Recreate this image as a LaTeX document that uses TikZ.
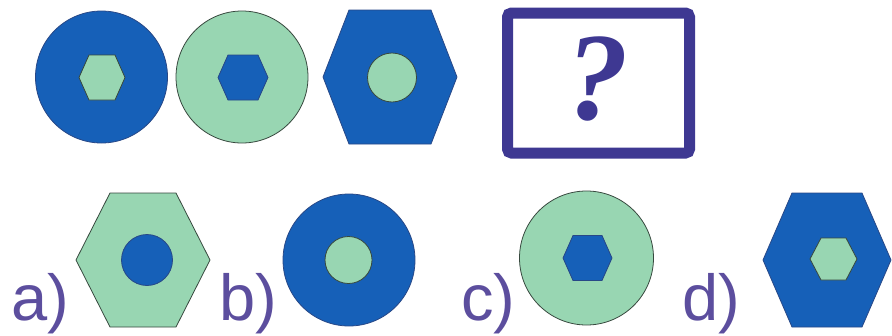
\documentclass[tikz,border=0pt]{standalone}
\usepackage{fontspec}
\setmainfont{Liberation Sans}
\newfontfamily\qfont{Liberation Serif}
\definecolor{dblue}{RGB}{22,96,184}
\definecolor{dblueline}{RGB}{40,72,135}
\definecolor{lgreen}{RGB}{152,214,178}
\definecolor{gline}{RGB}{55,72,62}
\definecolor{boxcol}{RGB}{62,56,146}
\definecolor{labcol}{RGB}{92,78,158}
\newcommand\hexpath[5]{(#1-#3,#2) -- (#1-#4,#2-#5) -- (#1+#4,#2-#5) -- (#1+#3,#2) -- (#1+#4,#2+#5) -- (#1-#4,#2+#5) -- cycle}
\tikzset{
  blueshape/.style={fill=dblue, draw=dblueline, line width=0.8pt},
  greenshape/.style={fill=lgreen, draw=gline, line width=0.8pt},
  lab/.style={anchor=base west, text=labcol, inner sep=0pt, font=\fontsize{65}{65}\selectfont}
}
\begin{document}
\begin{tikzpicture}[x=1pt,y=-1pt]
\useasboundingbox (0,0) rectangle (892,335);
% top row
\draw[blueshape] (101.5,77) circle (66pt);
\draw[greenshape] \hexpath{102}{77.5}{23}{13}{22.5};
\draw[greenshape] (242,77) circle (66pt);
\draw[blueshape] \hexpath{243}{77.5}{25}{15}{22.5};
\draw[blueshape] \hexpath{390}{77}{67}{41}{67};
\draw[greenshape] (392,77.5) circle (24.5pt);
% question box
\draw[boxcol, line width=11pt, rounded corners=4pt] (507.5,13) rectangle (689.5,153);
\node[text=boxcol, inner sep=0pt, font=\qfont\bfseries\itshape\fontsize{125}{125}\selectfont] (q) at (598,79) {?};
% answers
\node[lab] (la) at (11,320) {a)};
\draw[greenshape] \hexpath{143}{260}{67}{33}{67};
\draw[blueshape] (147,260) circle (25.5pt);
\node[lab] (lb) at (219,320) {b)};
\draw[blueshape] (349,260) circle (66pt);
\draw[greenshape] (348.5,260) circle (23.5pt);
\node[lab] (lc) at (461,320) {c)};
\draw[greenshape] (586.5,258) circle (67pt);
\draw[blueshape] \hexpath{587.5}{258}{24.5}{14.5}{22.5};
\node[lab] (ld) at (682,320) {d)};
\draw[blueshape] \hexpath{827}{260}{64}{35}{67};
\draw[greenshape] \hexpath{833.5}{259}{23.5}{12.5}{21};
\end{tikzpicture}
\end{document}
